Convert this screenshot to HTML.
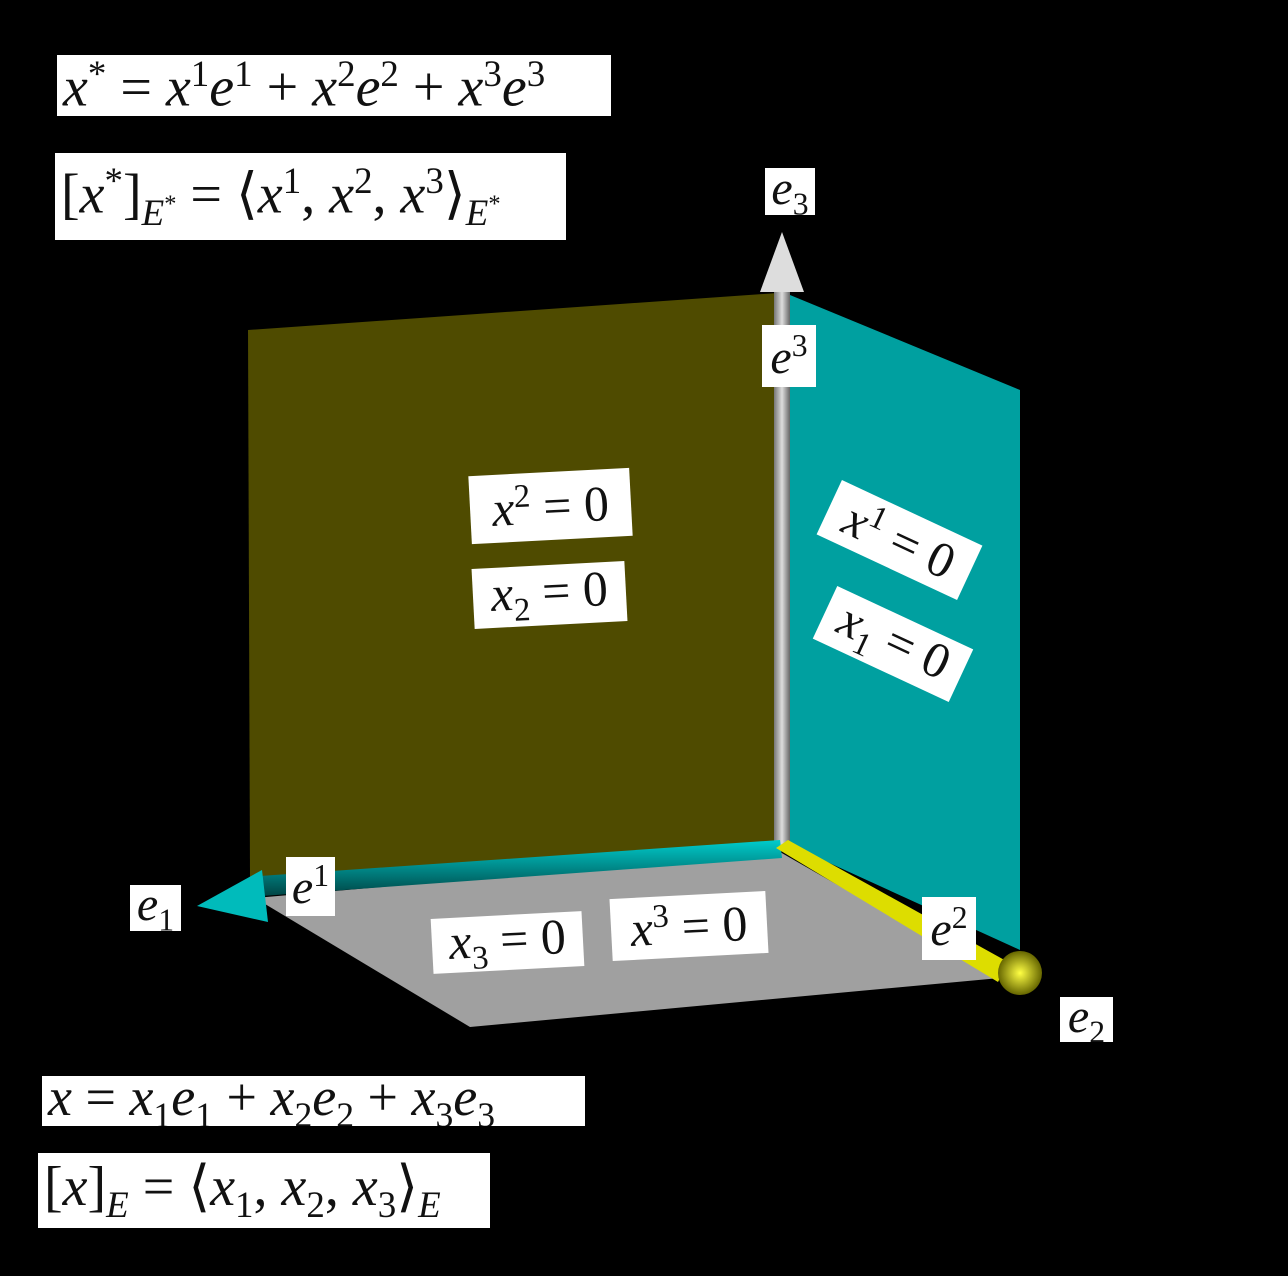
<!DOCTYPE html>
<html><head><meta charset="utf-8"><style>
html,body{margin:0;padding:0;background:#000;}
body{width:1288px;height:1276px;position:relative;overflow:hidden;font-family:"Liberation Serif",serif;}
.l{position:absolute;background:#fff;color:#111;white-space:nowrap;box-sizing:border-box;display:flex;align-items:center;justify-content:center;font-size:46px;overflow:hidden;}
.w{justify-content:flex-start;padding-left:6px;}
i{font-style:italic}
sup,sub{font-size:66%;}
</style></head><body>
<svg width="1288" height="1276" style="position:absolute;left:0;top:0">
<defs>
<linearGradient id="gv" x1="0" x2="1"><stop offset="0" stop-color="#777"/><stop offset="0.5" stop-color="#ddd"/><stop offset="1" stop-color="#666"/></linearGradient>
<linearGradient id="gc" x1="0" y1="0" x2="0" y2="1"><stop offset="0" stop-color="#0cc"/><stop offset="1" stop-color="#044"/></linearGradient>
<radialGradient id="gy"><stop offset="0" stop-color="#ff4"/><stop offset="1" stop-color="#660"/></radialGradient>
</defs>
<polygon points="248,330 778,293 778,845 250,880" fill="#4f4b00"/>
<polygon points="790,295 1020,390 1020,950 790,845" fill="#00a0a0"/>
<polygon points="255,898 780,852 1000,978 470,1027" fill="#a0a0a0"/>
<rect x="774" y="290" width="16" height="558" fill="url(#gv)"/>
<polygon points="782,232 760,292 804,292" fill="#ddd"/>
<polygon points="260,876 780,840 782,858 262,896" fill="url(#gc)"/>
<polygon points="197,906 262,870 268,922" fill="#0bb"/>
<polygon points="776,848 788,840 1008,962 998,982" fill="#dd0"/>
<circle cx="1020" cy="973" r="22" fill="url(#gy)"/>
</svg>
<div class="l w" style="left:57px;top:55px;width:554px;height:61px;font-size:56px"><span><i>x</i><sup>*</sup> = <i>x</i><sup>1</sup><i>e</i><sup>1</sup> + <i>x</i><sup>2</sup><i>e</i><sup>2</sup> + <i>x</i><sup>3</sup><i>e</i><sup>3</sup></span></div>
<div class="l w" style="left:55px;top:153px;width:511px;height:87px;font-size:56px"><span>[<i>x</i><sup>*</sup>]<sub><i>E</i><sup>*</sup></sub> = ⟨<i>x</i><sup>1</sup>, <i>x</i><sup>2</sup>, <i>x</i><sup>3</sup>⟩<sub><i>E</i><sup>*</sup></sub></span></div>
<div class="l" style="left:765px;top:168px;width:50px;height:47px;font-size:48px"><span><i>e</i><sub>3</sub></span></div>
<div class="l" style="left:762px;top:325px;width:54px;height:62px;font-size:48px"><span><i>e</i><sup>3</sup></span></div>
<div class="l" style="left:470px;top:472px;width:161px;height:68px;transform:rotate(-3deg);font-size:50px"><span><i>x</i><sup>2</sup> = 0</span></div>
<div class="l" style="left:473px;top:565px;width:153px;height:60px;transform:rotate(-3deg);font-size:50px"><span><i>x</i><sub>2</sub> = 0</span></div>
<div class="l" style="left:822px;top:510px;width:155px;height:60px;transform:rotate(25deg);font-size:50px"><span><i>x</i><sup>1</sup> = 0</span></div>
<div class="l" style="left:818px;top:615px;width:150px;height:58px;transform:rotate(25deg);font-size:50px"><span><i>x</i><sub>1</sub> = 0</span></div>
<div class="l" style="left:286px;top:857px;width:49px;height:59px;font-size:48px"><span><i>e</i><sup>1</sup></span></div>
<div class="l" style="left:130px;top:885px;width:51px;height:46px;font-size:48px"><span><i>e</i><sub>1</sub></span></div>
<div class="l" style="left:432px;top:915px;width:151px;height:55px;transform:rotate(-3deg);font-size:50px"><span><i>x</i><sub>3</sub> = 0</span></div>
<div class="l" style="left:611px;top:895px;width:156px;height:62px;transform:rotate(-3deg);font-size:50px"><span><i>x</i><sup>3</sup> = 0</span></div>
<div class="l" style="left:922px;top:897px;width:54px;height:63px;font-size:48px"><span><i>e</i><sup>2</sup></span></div>
<div class="l" style="left:1060px;top:997px;width:53px;height:45px;font-size:48px"><span><i>e</i><sub>2</sub></span></div>
<div class="l w" style="left:42px;top:1076px;width:543px;height:50px;font-size:54px"><span><i>x</i> = <i>x</i><sub>1</sub><i>e</i><sub>1</sub> + <i>x</i><sub>2</sub><i>e</i><sub>2</sub> + <i>x</i><sub>3</sub><i>e</i><sub>3</sub></span></div>
<div class="l w" style="left:38px;top:1153px;width:452px;height:75px;font-size:56px"><span>[<i>x</i>]<sub><i>E</i></sub> = ⟨<i>x</i><sub>1</sub>, <i>x</i><sub>2</sub>, <i>x</i><sub>3</sub>⟩<sub><i>E</i></sub></span></div>
</body></html>
